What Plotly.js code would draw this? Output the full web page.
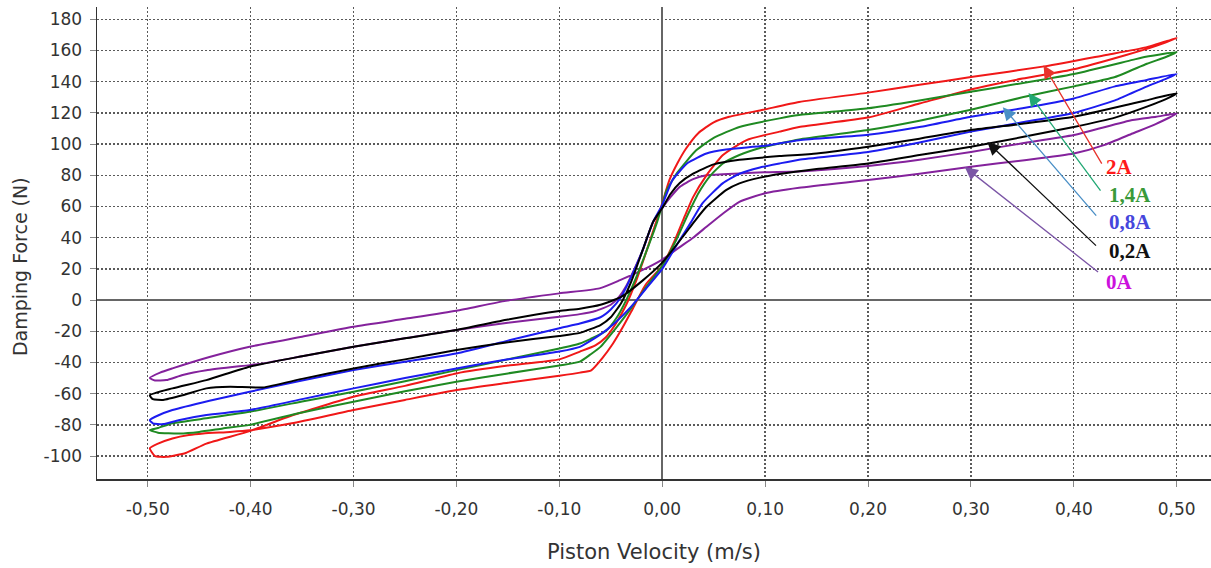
<!DOCTYPE html>
<html>
<head>
<meta charset="utf-8">
<script src="https://cdn.plot.ly/plotly-3.0.1.min.js"></script>
<style>html,body{margin:0;padding:0;background:#fff;}#chart{width:1211px;height:568px;}</style>
</head>
<body>
<div id="chart"></div>
<script>
// Hysteresis loops, piston velocity (m/s) vs damping force (N)
const velocity_2A = [-0.498,-0.49,-0.476,-0.46,-0.446,-0.42,-0.401,-0.36,-0.3,-0.25,-0.2,-0.15,-0.1,-0.08,-0.069,-0.058,-0.048,-0.038,-0.029,-0.016,0,0.012,0.022,0.03,0.043,0.059,0.082,0.114,0.133,0.2,0.25,0.3,0.35,0.4,0.45,0.48,0.5,
  0.47,0.43,0.373,0.3,0.25,0.2,0.133,0.098,0.065,0.05,0.035,0.023,0.015,0.007,0,-0.005,-0.015,-0.025,-0.035,-0.045,-0.055,-0.065,-0.08,-0.1,-0.15,-0.2,-0.25,-0.3,-0.36,-0.401,-0.443,-0.463,-0.482,-0.493,-0.498];
const force_2A = [-95,-92,-88.7,-86.5,-85.5,-84.5,-83.5,-79,-70.5,-64,-57.7,-53,-48.5,-46.5,-45,-37,-28,-17,-6,10,22,38,54,66,80,93,102.6,108,111,117,126,135,142,148,157,163,168,
  162,157,150,143,138,133,127,122,117.5,114,107,97,88,77,62,52,32,13,-3,-15,-24,-29,-33,-38,-42,-47,-55,-62,-74,-84,-92,-98,-100.5,-100,-95];

const velocity_1_4A = [-0.498,-0.49,-0.469,-0.45,-0.427,-0.401,-0.35,-0.3,-0.25,-0.2,-0.15,-0.1,-0.08,-0.07,-0.06,-0.045,-0.03,-0.015,0,0.0136,0.025,0.035,0.047,0.059,0.075,0.095,0.114,0.133,0.2,0.25,0.3,0.35,0.4,0.44,0.471,0.49,0.5,
  0.47,0.457,0.4,0.3,0.25,0.2,0.133,0.114,0.075,0.05,0.033,0.015,0.004,0,-0.005,-0.015,-0.025,-0.035,-0.045,-0.055,-0.07,-0.08,-0.1,-0.15,-0.2,-0.25,-0.3,-0.35,-0.401,-0.44,-0.476,-0.49,-0.498];
const force_1_4A = [-83.3,-85,-85.5,-84.5,-82.3,-80,-72,-65.2,-58.5,-52.4,-47,-42,-39.5,-35,-30,-18,-5,9,22,38.5,55,68.4,80,87.6,93,97.5,100.4,103,109,115,122,130,137,143,151.5,156,159,
  156,154,145,133.5,128,123,118.6,116.5,111,104,96,82,70,61,50,32,15,0,-12,-20,-25,-27.8,-31,-38,-44.9,-52,-58.8,-65,-71.6,-75.5,-79,-82,-83.3];

const velocity_0_8A = [-0.498,-0.495,-0.485,-0.47,-0.443,-0.401,-0.35,-0.3,-0.25,-0.2,-0.15,-0.1,-0.08,-0.06,-0.045,-0.03,-0.015,0,0.017,0.028,0.039,0.059,0.075,0.095,0.114,0.133,0.2,0.25,0.3,0.35,0.4,0.44,0.47,0.49,0.5,
  0.47,0.44,0.4,0.35,0.3,0.25,0.2,0.133,0.1,0.062,0.043,0.025,0.01,0,-0.009,-0.019,-0.03,-0.04,-0.05,-0.06,-0.08,-0.1,-0.15,-0.2,-0.25,-0.3,-0.35,-0.401,-0.44,-0.476,-0.49,-0.498];
const force_0_8A = [-77,-79,-79.5,-77,-73.7,-70.5,-63.5,-56.6,-50,-43.8,-38,-33,-30,-22,-14,-4,8,20,38.5,50,62,75,81,85,87.6,90,95,101,108,114,120,128,136.7,142,145,
  141,137,129.3,123,117.5,111,106,102.5,99,96.5,94,88,77,61,50,32,15,2,-6,-11,-15,-18,-26,-34.2,-39.5,-44.9,-51.5,-58.8,-64.5,-70.5,-74,-77];

const velocity_0_2A = [-0.498,-0.476,-0.443,-0.401,-0.35,-0.3,-0.25,-0.2,-0.15,-0.1,-0.08,-0.06,-0.04,-0.02,0,0.02,0.032,0.043,0.062,0.075,0.095,0.114,0.15,0.2,0.25,0.3,0.35,0.4,0.44,0.471,0.49,0.5,
  0.47,0.457,0.4,0.35,0.3,0.25,0.2,0.15,0.114,0.075,0.05,0.03,0.017,0.008,0,-0.009,-0.019,-0.03,-0.04,-0.05,-0.06,-0.08,-0.1,-0.15,-0.2,-0.25,-0.3,-0.35,-0.388,-0.42,-0.443,-0.466,-0.485,-0.495,-0.498];
const force_0_2A = [-61,-56.6,-51.3,-42.7,-36,-29.9,-24.5,-19.2,-12.5,-7,-5.5,-3,2,12,24,40.6,51,59.8,70.5,74.8,78.5,80.8,84,87.6,93,98.3,104.5,111,117,124,129,132.5,
  128,126,117.5,113,109,103.5,98.3,94,92.3,90,87,81,75,68,59,50,32,12,-2,-11,-16,-21,-23,-27,-32,-38,-43.8,-50.5,-56,-55.5,-56.6,-61,-64,-63.5,-61];

const velocity_0A = [-0.498,-0.488,-0.476,-0.44,-0.401,-0.35,-0.3,-0.25,-0.2,-0.152,-0.1,-0.061,-0.041,-0.02,0,0.017,0.03,0.043,0.06,0.075,0.1,0.133,0.2,0.25,0.3,0.35,0.4,0.43,0.457,0.48,0.5,
  0.48,0.457,0.4,0.35,0.3,0.25,0.2,0.133,0.1,0.075,0.043,0.03,0.017,0.008,0,-0.009,-0.019,-0.027,-0.035,-0.042,-0.05,-0.065,-0.08,-0.1,-0.15,-0.2,-0.25,-0.3,-0.35,-0.388,-0.401,-0.443,-0.466,-0.482,-0.493,-0.498];
const force_0A = [-50,-46.5,-43.8,-36.5,-29.9,-23.5,-17.1,-12,-6.8,-0.5,4.3,7.5,12.8,19,26,34,40,47,56,63,68.5,72,77,81,85.5,89.5,94,99.5,106.8,113,119.7,
  117.5,115.4,105.8,100.5,95,90,86,82.5,82,81.2,80,77.5,72.6,66,59,50,32,20,9,2,-3,-7,-9,-10.7,-14.5,-19.2,-24.5,-29.9,-36,-40.6,-41.7,-45,-48,-51.3,-51.5,-50];

const seriesNames = ['0A', '2A', '1,4A', '0,8A', '0,2A'];
const xTickValues = [-0.5,-0.4,-0.3,-0.2,-0.1,0,0.1,0.2,0.3,0.4,0.5];
const xTickLabels = ['-0,50','-0,40','-0,30','-0,20','-0,10','0,00','0,10','0,20','0,30','0,40','0,50'];
const yTickValues = [-100,-80,-60,-40,-20,0,20,40,60,80,100,120,140,160,180];
const yTickLabels = ['-100','-80','-60','-40','-20','0','20','40','60','80','100','120','140','160','180'];

const colors = {'0A':'#84229c','2A':'#f01818','1,4A':'#1f8a22','0,8A':'#1c1cf0','0,2A':'#000000'};
const dataMap = {
  '0A':[velocity_0A, force_0A],
  '2A':[velocity_2A, force_2A],
  '1,4A':[velocity_1_4A, force_1_4A],
  '0,8A':[velocity_0_8A, force_0_8A],
  '0,2A':[velocity_0_2A, force_0_2A]
};
const traces = seriesNames.map(n => ({
  type:'scatter', mode:'lines', name:n,
  x:dataMap[n][0], y:dataMap[n][1],
  line:{color:colors[n], width:2, shape:'spline', smoothing:0.5},
  hoverinfo:'skip'
}));

const labelFont = 'Liberation Serif, Times New Roman, serif';
const annotations = [
  // arrows (tip on curve, tail near label)
  {x:0.3706,y:150.6,ax:0.428,ay:86.5,color:'#e8342c'},
  {x:0.356,y:132.7,ax:0.427,ay:69.2,color:'#22a874'},
  {x:0.331,y:123.7,ax:0.423,ay:53.2,color:'#4a8fc6'},
  {x:0.316,y:101.3,ax:0.423,ay:34,color:'#111111'},
  {x:0.294,y:85.3,ax:0.425,ay:17.3,color:'#7b55a6'}
].map(a => ({x:a.x,y:a.y,ax:a.ax,ay:a.ay,xref:'x',yref:'y',axref:'x',ayref:'y',text:'',
  showarrow:true,arrowhead:2,arrowsize:2,arrowwidth:1.3,arrowcolor:a.color,standoff:0,startstandoff:0}));

[
  {t:'2A',x:0.4444,y:85.3,c:'#ff1a1a'},
  {t:'1,4A',x:0.4541,y:67.3,c:'#3a9a3a'},
  {t:'0,8A',x:0.4541,y:50,c:'#4646dc'},
  {t:'0,2A',x:0.4541,y:31.4,c:'#111111'},
  {t:'0A',x:0.4444,y:11.5,c:'#cc11dd'}
].forEach(l => annotations.push({x:l.x,y:l.y,xref:'x',yref:'y',text:'<b>'+l.t+'</b>',showarrow:false,
  xanchor:'center',yanchor:'middle',font:{family:labelFont,size:21,color:l.c}}));

annotations.push({xref:'paper',yref:'paper',x:-0.0691,y:0.449,xanchor:'center',yanchor:'middle',
  text:'Damping Force (N)',textangle:-90,showarrow:false,font:{family:'DejaVu Sans',size:19,color:'#333'}});

const layout = {
  width:1211, height:568,
  margin:{l:97,r:0,t:7,b:89},
  paper_bgcolor:'#ffffff', plot_bgcolor:'#ffffff',
  showlegend:false, hovermode:false,
  font:{family:'DejaVu Sans', color:'#333'},
  xaxis:{
    range:[-0.5493,0.5333], tickmode:'array', tickvals:xTickValues, ticktext:xTickLabels,
    tickfont:{family:'DejaVu Sans',size:17,color:'#333'}, ticklabelstandoff:8,
    showgrid:true, gridcolor:'#5a5a5a', gridwidth:1.3, griddash:'2px,2px',
    zeroline:true, zerolinecolor:'#666', zerolinewidth:1.6,
    showline:true, linecolor:'#333', linewidth:2,
    ticks:'outside', ticklen:6, tickcolor:'#888', tickwidth:1,
    title:{text:'Piston Velocity (m/s)', font:{family:'DejaVu Sans',size:21,color:'#333'}, standoff:26}
  },
  yaxis:{
    range:[-114.7,187.9], tickmode:'array', tickvals:yTickValues, ticktext:yTickLabels,
    tickfont:{family:'DejaVu Sans',size:17,color:'#333'}, ticklabelstandoff:4,
    showgrid:true, gridcolor:'#5a5a5a', gridwidth:1.3, griddash:'2px,2px',
    zeroline:true, zerolinecolor:'#666', zerolinewidth:1.6,
    showline:true, linecolor:'#333', linewidth:1.5,
    ticks:'outside', ticklen:6, tickcolor:'#888', tickwidth:1
  },
  annotations:annotations
};
Plotly.newPlot('chart', traces, layout, {displayModeBar:false, staticPlot:true});
</script>
</body>
</html>
